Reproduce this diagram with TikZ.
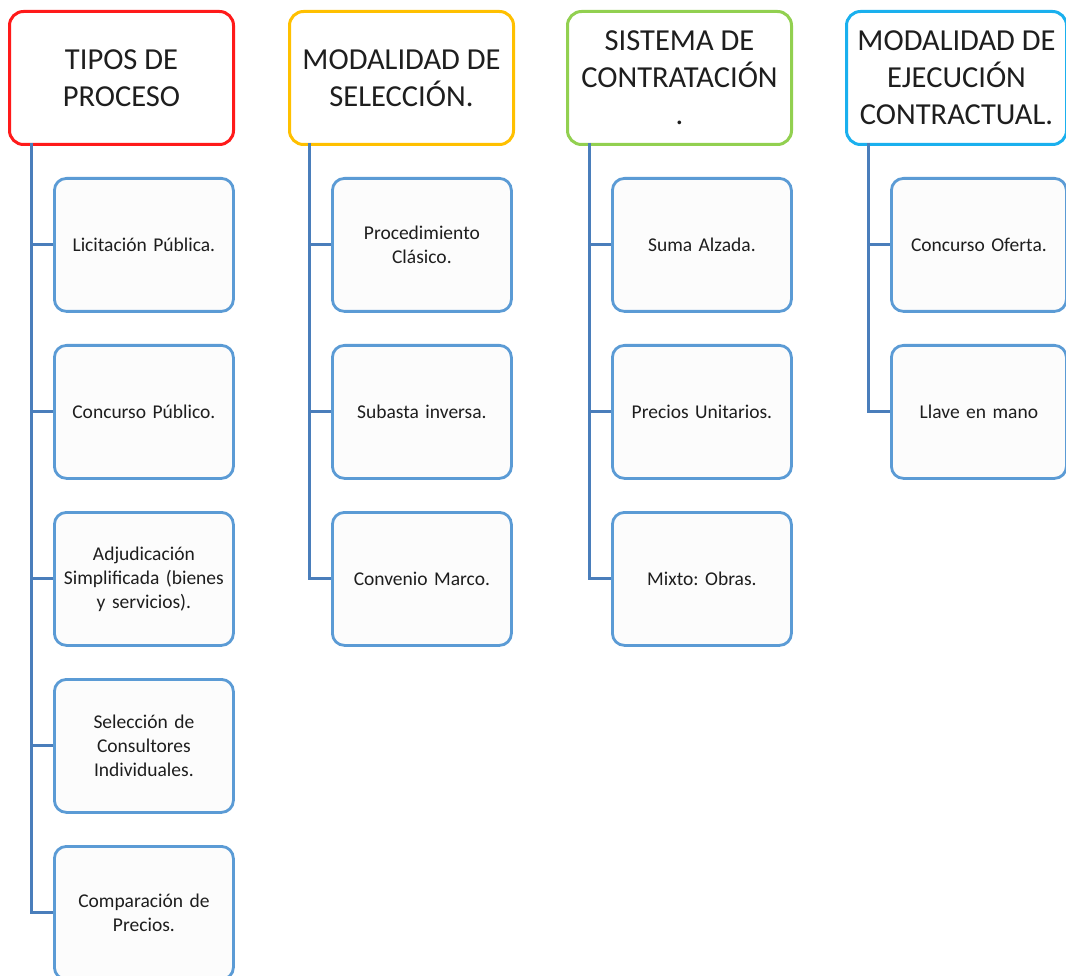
\documentclass[tikz,border=0pt]{standalone}
\usepackage{fontspec}
\setmainfont{Carlito}
\frenchspacing
\definecolor{hred}{HTML}{FF1A1A}
\definecolor{horange}{HTML}{FFC000}
\definecolor{hgreen}{HTML}{92D050}
\definecolor{hcyan}{HTML}{1AB0EE}
\definecolor{itemblue}{HTML}{5B9BD5}
\definecolor{itemfill}{HTML}{FCFCFC}
\definecolor{linkblue}{HTML}{4A7EBB}
\definecolor{txt}{HTML}{1E1E1E}
\begin{document}
\begin{tikzpicture}[x=1pt,y=-1pt,
  head/.style={draw=#1, line width=3pt, rounded corners=14pt, fill=white,
    minimum width=224pt, minimum height=133pt, align=center,
    font=\fontsize{30.5}{37}\selectfont, text=txt, inner sep=0pt, anchor=north west},
  item/.style={draw=itemblue, line width=2.8pt, rounded corners=12pt, fill=itemfill,
    minimum width=179pt, minimum height=133pt, align=center, text width=170pt,
    font=\fontsize{19.5}{24}\selectfont\frenchspacing, text=txt, inner sep=0pt, anchor=north west},
  link/.style={draw=linkblue, line width=3pt}]
\useasboundingbox (0,0) rectangle (1066,976);
\clip (0,0) rectangle (1066,976);
% headers
\node[head=hred] (h1) at (8,10) {TIPOS DE\\PROCESO};
\node[head=horange] (h2) at (288,10) {MODALIDAD DE\\SELECCIÓN.};
\node[head=hgreen] (h3) at (566,10) {SISTEMA DE\\CONTRATACIÓN\\.};
\node[head=hcyan, minimum width=220pt] (h4) at (845,10) {MODALIDAD DE\\EJECUCIÓN\\CONTRACTUAL.};
% column 1
\node[item] (a1) at (53,177) {Licitación Pública.};
\node[item] (a2) at (53,344) {Concurso Público.};
\node[item] (a3) at (53,511) {Adjudicación\\Simplificada (bienes\\y servicios).};
\node[item] (a4) at (53,678) {Selección de\\Consultores\\Individuales.};
\node[item] (a5) at (53,845) {Comparación de\\Precios.};
% column 2
\node[item] (b1) at (331,177) {Procedimiento\\Clásico.};
\node[item] (b2) at (331,344) {Subasta inversa.};
\node[item] (b3) at (331,511) {Convenio Marco.};
% column 3
\node[item] (c1) at (611,177) {Suma Alzada.};
\node[item] (c2) at (611,344) {Precios Unitarios.};
\node[item] (c3) at (611,511) {Mixto: Obras.};
% column 4
\node[item, minimum width=175pt] (d1) at (890,177) {Concurso Oferta.};
\node[item, minimum width=175pt] (d2) at (890,344) {Llave en mano};
% trunks
\coordinate (t1) at (31,143);
\coordinate (t2) at (309,143);
\coordinate (t3) at (589,143);
\coordinate (t4) at (868,143);
\draw[link] (t1) |- (a5.west);
\foreach \n in {a1,a2,a3,a4} \draw[link] (t1 |- \n.west) -- (\n.west);
\draw[link] (t2) |- (b3.west);
\foreach \n in {b1,b2} \draw[link] (t2 |- \n.west) -- (\n.west);
\draw[link] (t3) |- (c3.west);
\foreach \n in {c1,c2} \draw[link] (t3 |- \n.west) -- (\n.west);
\draw[link] (t4) |- (d2.west);
\draw[link] (t4 |- d1.west) -- (d1.west);
\end{tikzpicture}
\end{document}
